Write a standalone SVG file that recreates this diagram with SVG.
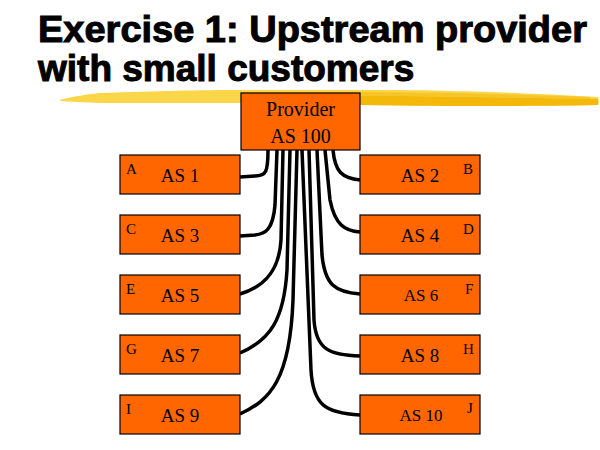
<svg xmlns="http://www.w3.org/2000/svg" width="600" height="450" viewBox="0 0 600 450">
<style>
.title{font-family:"Liberation Sans",Arial,sans-serif;font-weight:bold;font-size:37px;fill:#000;stroke:#000;stroke-width:1px}
.box{fill:#FF6600;stroke:#000;stroke-width:1.2}
.lbl{font-family:"Liberation Serif","Times New Roman",serif;font-size:19px;fill:#000;text-anchor:middle}
.sm{font-size:17px}
.ltr{font-family:"Liberation Serif","Times New Roman",serif;font-size:15px;fill:#000}
.wire{fill:none;stroke:#000;stroke-width:3.5;stroke-linecap:butt}
</style>
<rect width="600" height="450" fill="#fff"/>
<text class="title" x="38" y="42" textLength="549" lengthAdjust="spacingAndGlyphs">Exercise 1: Upstream provider</text>
<text class="title" x="38" y="81">with small customers</text>
<g id="brush">
<path d="M60,100 C75,96 90,94 100,93 C160,91 200,90 240,90 L360,90 C400,90 430,90 450,91 C500,92 540,94 560,95 L598,97 L599,102 L598,105 C540,106 500,106 450,106 C420,106 390,105 360,105 L240,103 C180,103 130,103 100,103 C85,102 70,102 60,101 Z" fill="#FBD648"/>
<path d="M300,96 C380,95 470,97 598,99 L598,105 C540,106 500,106 450,106 C420,106 390,105 360,105 L300,104 Z" fill="#F4B80A"/>
<path d="M240,92 L360,92 C420,92 500,94 590,97 L590,99 C500,97 420,96 360,96 L240,96 Z" fill="#F6C52A"/>
</g>
<g id="connectors">
<path class="wire" d="M268,150 C268,172 266,176 255,176 L240,177"/>
<path class="wire" d="M277,150 L275,205 C273,230 265,234 255,235 L240,236"/>
<path class="wire" d="M283,150 L281,240 C279,275 260,288 240,294"/>
<path class="wire" d="M290,150 L287,270 C284,320 270,340 240,353"/>
<path class="wire" d="M297,150 L293,300 C290,380 270,400 240,414"/>
<path class="wire" d="M302,150 L311,370 C313,405 325,413 360,415"/>
<path class="wire" d="M309,150 L314,320 C316,350 330,355 360,356"/>
<path class="wire" d="M317,150 L322,255 C325,285 335,292 360,294"/>
<path class="wire" d="M325,150 L330,200 C335,225 345,231 360,232"/>
<path class="wire" d="M333,150 C335,172 342,178 360,180"/>
</g>
<g id="provider">
<rect class="box" x="241" y="93" width="119" height="57"/>
<text class="lbl" x="300.5" y="116" style="font-size:20px">Provider</text>
<text class="lbl" x="300.5" y="143" style="font-size:20px">AS 100</text>
</g>
<g id="as1"><rect class="box" x="120" y="155" width="120" height="39"/><text class="ltr" x="126" y="174">A</text><text class="lbl" x="180" y="182">AS 1</text></g>
<g id="as3"><rect class="box" x="120" y="215" width="120" height="39"/><text class="ltr" x="126" y="234">C</text><text class="lbl" x="180" y="242">AS 3</text></g>
<g id="as5"><rect class="box" x="120" y="275" width="120" height="39"/><text class="ltr" x="126" y="294">E</text><text class="lbl" x="180" y="302">AS 5</text></g>
<g id="as7"><rect class="box" x="120" y="335" width="120" height="39"/><text class="ltr" x="126" y="354">G</text><text class="lbl" x="180" y="362">AS 7</text></g>
<g id="as9"><rect class="box" x="120" y="395" width="120" height="39"/><text class="ltr" x="126" y="414">I</text><text class="lbl" x="180" y="422">AS 9</text></g>
<g id="as2"><rect class="box" x="360" y="155" width="120" height="39"/><text class="ltr" x="463" y="174">B</text><text class="lbl" x="420" y="182">AS 2</text></g>
<g id="as4"><rect class="box" x="360" y="215" width="120" height="39"/><text class="ltr" x="463" y="234">D</text><text class="lbl" x="420" y="242">AS 4</text></g>
<g id="as6"><rect class="box" x="360" y="275" width="120" height="39"/><text class="ltr" x="465" y="294">F</text><text class="lbl sm" x="421" y="301">AS 6</text></g>
<g id="as8"><rect class="box" x="360" y="335" width="120" height="39"/><text class="ltr" x="463" y="354">H</text><text class="lbl" x="420" y="362">AS 8</text></g>
<g id="as10"><rect class="box" x="360" y="395" width="120" height="39"/><text class="ltr" x="467" y="413">J</text><text class="lbl sm" x="421" y="421">AS 10</text></g>
</svg>
